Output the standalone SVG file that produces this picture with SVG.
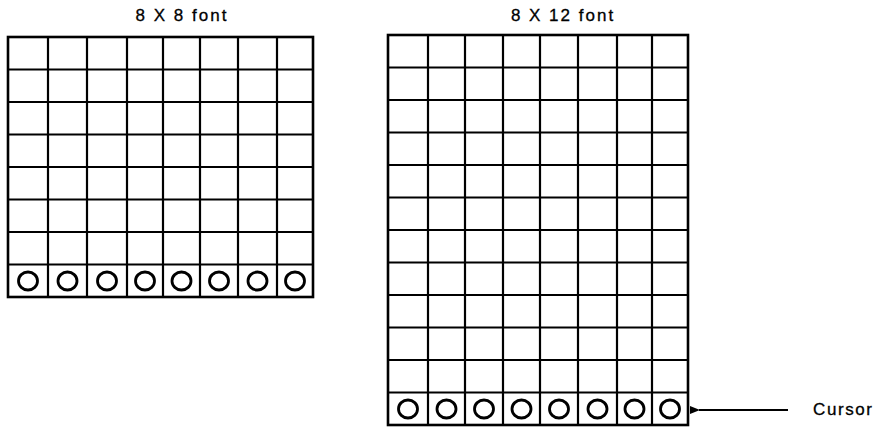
<svg xmlns="http://www.w3.org/2000/svg" width="878" height="429" viewBox="0 0 878 429">
<style>
.t{font-family:"Liberation Sans",Arial,sans-serif;font-size:17px;letter-spacing:2px;fill:#000;stroke:#000;stroke-width:0.3}
.g{stroke:#000;stroke-width:2.2;fill:none}
.b{stroke:#000;stroke-width:2.6;fill:none}
.c{stroke:#000;stroke-width:2.8;fill:none}
</style>
<defs>
<marker id="ah" markerWidth="10" markerHeight="8" refX="1" refY="4" orient="auto" markerUnits="userSpaceOnUse">
<path d="M10,0 L0,4 L10,8 Z" fill="#000"/>
</marker>
</defs>
<g id="grid8x8">
<text class="t" x="182" y="21" text-anchor="middle">8 X 8 font</text>
<path class="g" d="M48,37V297M87,37V297M127,37V297M163,37V297M200,37V297M238,37V297M277,37V297M8,69.5H313M8,102H313M8,134.5H313M8,167H313M8,199.5H313M8,232H313M8,264.5H313"/>
<rect class="b" x="8" y="37" width="305" height="260"/>
<g class="c">
<ellipse cx="28" cy="281" rx="9.5" ry="9"/><ellipse cx="67.5" cy="281" rx="9.5" ry="9"/><ellipse cx="107" cy="281" rx="9.5" ry="9"/><ellipse cx="145" cy="281" rx="9.5" ry="9"/><ellipse cx="181.5" cy="281" rx="9.5" ry="9"/><ellipse cx="219" cy="281" rx="9.5" ry="9"/><ellipse cx="257.5" cy="281" rx="9.5" ry="9"/><ellipse cx="295" cy="281" rx="9.5" ry="9"/>
</g>
</g>
<g id="grid8x12">
<text class="t" x="563" y="21" text-anchor="middle">8 X 12 font</text>
<path class="g" d="M428,35V425M465,35V425M503,35V425M540,35V425M578,35V425M617,35V425M652,35V425M388,67.5H688M388,100H688M388,132.5H688M388,165H688M388,197.5H688M388,230H688M388,262.5H688M388,295H688M388,327.5H688M388,360H688M388,392.5H688"/>
<rect class="b" x="388" y="35" width="300" height="390"/>
<g class="c">
<ellipse cx="408" cy="409" rx="9.5" ry="9"/><ellipse cx="446.5" cy="409" rx="9.5" ry="9"/><ellipse cx="484" cy="409" rx="9.5" ry="9"/><ellipse cx="521.5" cy="409" rx="9.5" ry="9"/><ellipse cx="559" cy="409" rx="9.5" ry="9"/><ellipse cx="597.5" cy="409" rx="9.5" ry="9"/><ellipse cx="634.5" cy="409" rx="9.5" ry="9"/><ellipse cx="670" cy="409" rx="9.5" ry="9"/>
</g>
</g>
<g id="cursor-label">
<text class="t" x="813" y="415" style="letter-spacing:1.6px">Cursor</text>
</g>
<g id="connectors">
<line x1="788" y1="410" x2="699" y2="410" stroke="#000" stroke-width="2" marker-end="url(#ah)"/>
</g>
</svg>
